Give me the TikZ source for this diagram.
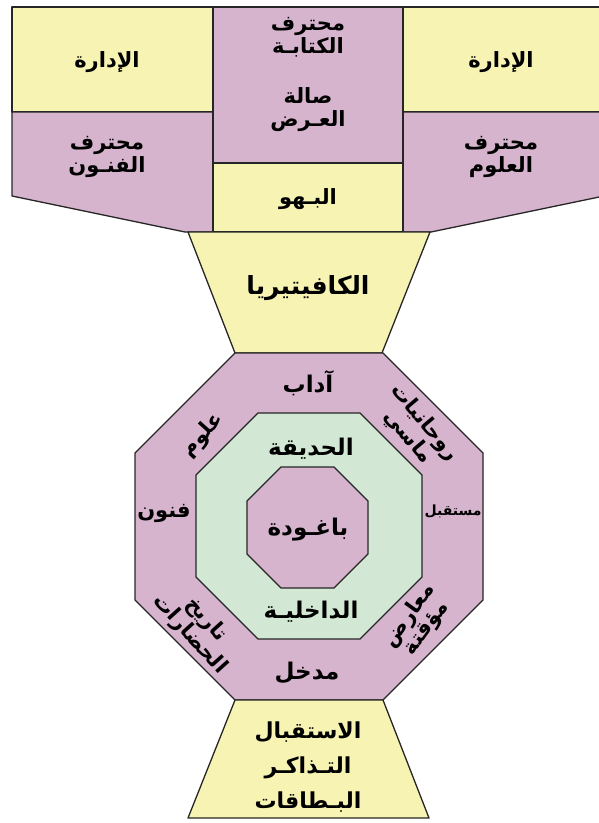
\documentclass[tikz,border=0pt]{standalone}
\usepackage{fontspec}
\newfontfamily\arabicfont[Script=Arabic]{DejaVu Sans}
\TeXXeTstate=1
\newcommand{\artxt}[1]{\beginR #1\endR}
\newcommand{\arsize}[2]{\arabicfont\bfseries\fontsize{#1}{#2}\selectfont}
\definecolor{roomyellow}{RGB}{247,243,178}
\definecolor{roompurple}{RGB}{214,180,205}
\definecolor{roomgreen}{RGB}{210,232,212}
\tikzstyle{every node}=[font=\arsize{21}{23},align=center,inner sep=0pt]
\tikzstyle{wall}=[draw=black!85,line width=1.3pt,line join=round]
\tikzstyle{yellowroom}=[wall,fill=roomyellow]
\tikzstyle{purpleroom}=[wall,fill=roompurple]
\tikzstyle{greenroom}=[wall,fill=roomgreen]
\tikzstyle{ring}=[font=\arsize{23}{24}]
\tikzstyle{slanted}=[font=\arsize{21}{21}]
\tikzstyle{small}=[font=\arsize{14}{16}]

\begin{document}
\begin{tikzpicture}[x=1pt,y=-1pt]
	  \useasboundingbox (0,0) rectangle (598,823);
	  % upper wing
	  \draw[yellowroom] (12,7) rectangle (213,112);
	  \draw[yellowroom] (403,7) rectangle (604,112);
	  \draw[purpleroom] (12,112) -- (213,112) -- (213,232) -- (185,232) -- (12,196) -- cycle;
	  \draw[purpleroom] (403,112) -- (604,112) -- (604,196) -- (431,232) -- (403,232) -- cycle;
	  \draw[purpleroom] (213,7) rectangle (403,163);
	  \draw[yellowroom] (213,163) rectangle (403,232);
	  \draw[yellowroom] (188,232) -- (430,232) -- (382,353) -- (235,353) -- cycle;
	  % octagons
	  \draw[purpleroom] (235,353) -- (383,353) -- (483,453) -- (483,600) -- (383,700)
	    -- (235,700) -- (135,600) -- (135,453) -- cycle;
	  \draw[greenroom] (258,413) -- (360,413) -- (422,475) -- (422,577) -- (360,639)
	    -- (258,639) -- (196,577) -- (196,475) -- cycle;
	  \draw[purpleroom] (281,467) -- (334,467) -- (368,501) -- (368,554) -- (334,588)
	    -- (281,588) -- (247,554) -- (247,501) -- cycle;
	  \draw[yellowroom] (235,700) -- (383,700) -- (429,818) -- (188,818) -- cycle;
	  % labels
	  \node (admleft) at (107,62) {\artxt{الإدارة}};
	  \node (admright) at (501,62) {\artxt{الإدارة}};
	  \node (writing) at (308,37) {\artxt{محترف}\\\artxt{الكتابـة}};
	  \node (hall) at (308,110) {\artxt{صالة}\\\artxt{العـرض}};
	  \node (arts) at (107,157) {\artxt{محترف}\\\artxt{الفنـون}};
	  \node (science) at (501,157) {\artxt{محترف}\\\artxt{العلوم}};
	  \node (lobby) at (308,199) {\artxt{البـهو}};
	  \node[font=\arsize{25}{26}] (cafe) at (308,288) {\artxt{الكافيتيريا}};
	  \node[ring] (adab) at (308,383) {\artxt{آداب}};
	  \node[slanted,rotate=-50] (spirit) at (416,430) {\artxt{روحانيات}\\\artxt{ماسي}};
	  \node[slanted,rotate=48] (uloom) at (203,435) {\artxt{علوم}};
	  \node (fonoon) at (164,513) {\artxt{فنون}};
	  \node[small] (future) at (453,511) {\artxt{مستقبل}};
	  \node[ring] (garden) at (311,449) {\artxt{الحديقة}};
	  \node[ring] (pagoda) at (308,530) {\artxt{باغـودة}};
	  \node[ring] (inner) at (311,612) {\artxt{الداخليـة}};
	  \node[slanted,rotate=-48] (history) at (198,627) {\artxt{تاريخ}\\\artxt{الحضارات}};
	  \node[slanted,rotate=54] (temp) at (418,622) {\artxt{معارض}\\\artxt{مؤقتة}};
	  \node[ring] (entry) at (307,673) {\artxt{مدخل}};
	  \node[font=\arsize{22}{35}] (reception) at (308,767)
	    {\artxt{الاستقبال}\\\artxt{التـذاكـر}\\\artxt{البـطاقات}};
\end{tikzpicture}
\end{document}
